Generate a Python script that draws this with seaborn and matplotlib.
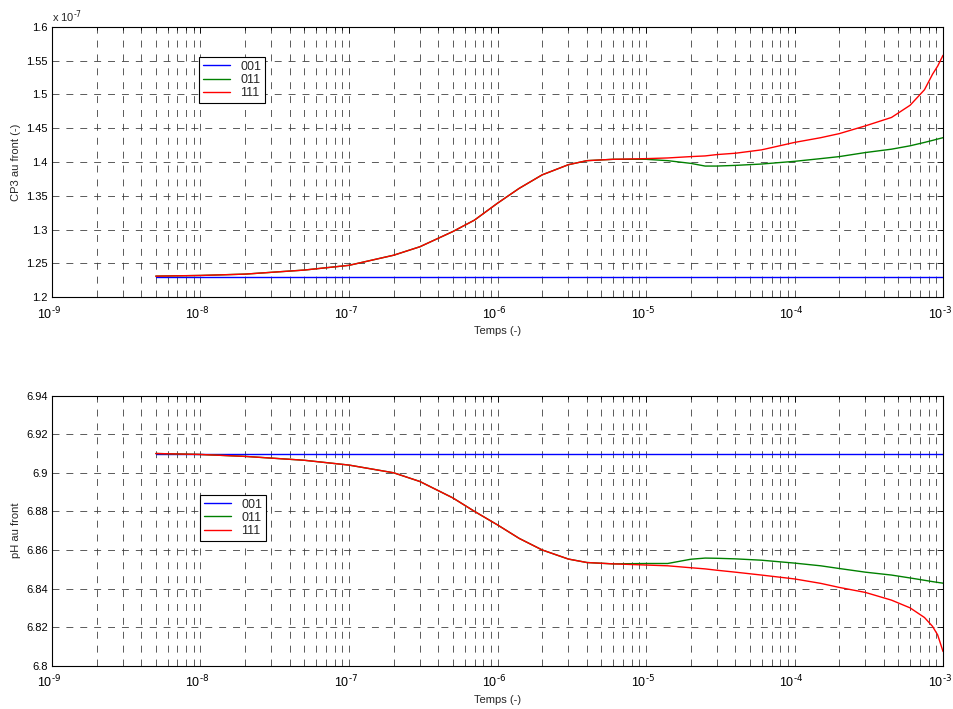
import numpy as np
import pandas as pd
import matplotlib
matplotlib.use("Agg")
import matplotlib.pyplot as plt
import matplotlib.ticker as mticker
import matplotlib.transforms as mtransforms
import seaborn as sns

# time axis (s)
temps = [5e-9, 1e-8, 2e-8, 5e-8, 1e-7, 2e-7, 3e-7, 5e-7, 7e-7, 1e-6, 1.4e-6, 2e-6,
         3e-6, 4e-6, 6e-6, 1e-5, 1.4e-5, 2e-5, 2.5e-5, 3e-5, 4e-5, 6e-5, 1e-4,
         1.5e-4, 2e-4, 3e-4, 4.5e-4, 6e-4, 7.5e-4, 8.5e-4, 9.2e-4, 1e-3]
decades = [1e-9, 1e-8, 1e-7, 1e-6, 1e-5, 1e-4, 1e-3]

# CP3 at the front, in units of 1e-7
cp3_001 = [1.230] * len(temps)
cp3_011 = [1.231, 1.232, 1.234, 1.240, 1.247, 1.262, 1.2745, 1.297, 1.314, 1.339, 1.361, 1.381,
           1.396, 1.402, 1.404, 1.404, 1.402, 1.398, 1.394, 1.394, 1.395, 1.397, 1.401,
           1.405, 1.408, 1.414, 1.419, 1.424, 1.429, 1.432, 1.434, 1.436]
cp3_111 = [1.231, 1.232, 1.234, 1.240, 1.247, 1.262, 1.2745, 1.297, 1.314, 1.339, 1.361, 1.381,
           1.396, 1.402, 1.404, 1.405, 1.406, 1.408, 1.409, 1.411, 1.413, 1.418, 1.429,
           1.436, 1.442, 1.4535, 1.466, 1.484, 1.507, 1.530, 1.542, 1.558]

# pH at the front
ph_001 = [6.910] * len(temps)
ph_011 = [6.910, 6.9095, 6.9085, 6.9065, 6.904, 6.900, 6.8955, 6.887, 6.880, 6.873, 6.866, 6.860,
          6.8553, 6.8535, 6.8528, 6.853, 6.853, 6.8552, 6.8558, 6.8557, 6.8554, 6.8547, 6.8532,
          6.8518, 6.8504, 6.8485, 6.847, 6.8455, 6.8443, 6.8436, 6.8432, 6.8428]
ph_111 = [6.910, 6.9095, 6.9085, 6.9065, 6.904, 6.900, 6.8955, 6.887, 6.880, 6.873, 6.866, 6.860,
          6.8553, 6.8535, 6.8528, 6.8522, 6.8518, 6.8508, 6.8502, 6.8495, 6.8485, 6.847, 6.845,
          6.8427, 6.8406, 6.838, 6.834, 6.830, 6.825, 6.8204, 6.816, 6.8074]

series = ["001", "011", "111"]
colors = {"001": "#0000ff", "011": "#008000", "111": "#ff0000"}

sns.set_style("white")
plt.rcParams['font.family'] = ['Liberation Sans', 'DejaVu Sans']
plt.rcParams['lines.scale_dashes'] = False
plt.rcParams['mathtext.default'] = 'regular'
plt.rcParams['axes.unicode_minus'] = False


def long_df(cols):
    frames = []
    for name, vals in zip(series, cols):
        frames.append(pd.DataFrame({"Temps": temps, "val": vals, "serie": name}))
    return pd.concat(frames, ignore_index=True)


def pow_label(x, pos):
    return r"10$^{\text{-%d}}$" % abs(int(round(np.log10(x))))


def style_axes(ax, ylim, ystep):
    ax.set_xscale("log")
    ax.set_xlim(1e-9, 1e-3)
    ax.set_ylim(*ylim)
    ax.yaxis.set_major_locator(mticker.MultipleLocator(ystep))
    ax.yaxis.set_major_formatter(mticker.FormatStrFormatter('%g'))
    ax.xaxis.set_major_locator(mticker.FixedLocator(decades))
    ax.xaxis.set_major_formatter(mticker.FuncFormatter(pow_label))
    minors = [d * k for d in decades[:-1] for k in range(2, 10)]
    ax.xaxis.set_minor_locator(mticker.FixedLocator(minors))
    ax.xaxis.set_minor_formatter(mticker.NullFormatter())
    ax.tick_params(which='both', direction='in', top=True, right=True,
                   colors='k', width=0.6)
    ax.tick_params(axis='y', labelsize=8, pad=3)
    ax.tick_params(axis='x', labelsize=9, pad=6)
    ax.tick_params(which='major', length=4)
    ax.tick_params(which='minor', length=2.5)
    ax.grid(which='major', axis='both', color='0.25', lw=0.6, linestyle=(0, (5, 5)))
    ax.grid(which='minor', axis='x', color='0.25', lw=0.6, linestyle=(0, (5, 5)))
    for s in ax.spines.values():
        s.set_color('k')
        s.set_linewidth(0.8)
    ax.set_xlabel("Temps (-)", fontsize=8, labelpad=3)
    # shift the decade labels slightly left, as in the original export
    shift = mtransforms.ScaledTranslation(-3 / 100, 0, ax.figure.dpi_scale_trans)
    for lab in ax.get_xticklabels():
        lab.set_transform(lab.get_transform() + shift)


def style_legend(ax, anchor):
    leg = ax.legend(loc='upper left', bbox_to_anchor=anchor, borderaxespad=0,
                    fontsize=9, fancybox=False, framealpha=1, edgecolor='k',
                    handlelength=2.2, labelspacing=0.1, borderpad=0.3, handletextpad=0.8)
    leg.get_frame().set_linewidth(0.8)


fig = plt.figure(figsize=(9.54, 7.09), dpi=100)
ax1 = fig.add_axes([0.0545, 0.581, 0.934, 0.381])
ax2 = fig.add_axes([0.0545, 0.061, 0.934, 0.381])

sns.lineplot(data=long_df([cp3_001, cp3_011, cp3_111]), x="Temps", y="val", hue="serie",
             palette=colors, lw=1, ax=ax1, legend=True)
style_axes(ax1, (1.2, 1.6), 0.05)
ax1.set_ylabel("CP3 au front (-)", fontsize=8)
ax1.text(0.0, 1.008, r"x 10$^{\text{-7}}$", transform=ax1.transAxes, fontsize=8,
         va='bottom', ha='left')
style_legend(ax1, (0.165, 0.889))

sns.lineplot(data=long_df([ph_001, ph_011, ph_111]), x="Temps", y="val", hue="serie",
             palette=colors, lw=1, ax=ax2, legend=True)
style_axes(ax2, (6.8, 6.94), 0.02)
ax2.set_ylabel("pH au front", fontsize=8)
style_legend(ax2, (0.166, 0.633))

fig.savefig("out.png", dpi=100)
